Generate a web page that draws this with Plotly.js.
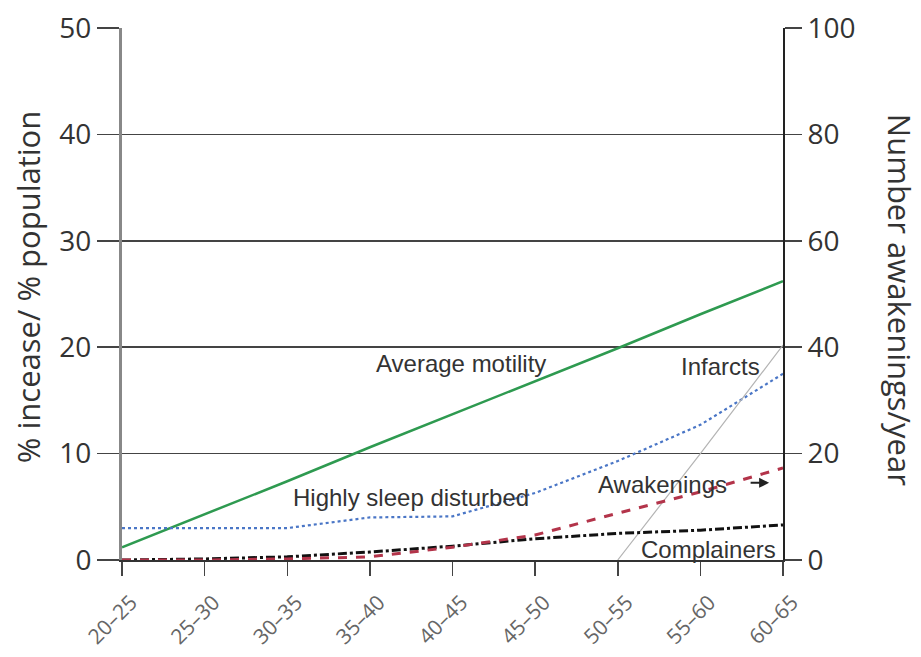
<!DOCTYPE html>
<html>
<head>
<meta charset="utf-8">
<script src="https://cdn.plot.ly/plotly-3.0.1.min.js"></script>
<style>html,body{margin:0;padding:0;background:#fff;}#chart{width:921px;height:657px;}</style>
</head>
<body>
<div id="chart"></div>
<script>
var ageGroups = ["20–25","25–30","30–35","35–40","40–45","45–50","50–55","55–60","60–65"];
var averageMotility = [1.2, 4.3, 7.4, 10.6, 13.7, 16.8, 19.9, 23.1, 26.2];
var highlySleepDisturbed = [3.0, 3.0, 3.0, 4.0, 4.1, 6.3, 9.3, 12.7, 17.5];
var complainers = [0, 0.1, 0.3, 0.75, 1.3, 2.0, 2.5, 2.8, 3.3];
var infarcts = [null, null, null, null, null, null, 0, 10.0, 20.2];
var awakenings = [0, 0, 0.2, 0.6, 2.4, 4.7, 8.8, 12.8, 17.3];
var leftTicks = [0, 10, 20, 30, 40, 50];
var rightTicks = [0, 20, 40, 60, 80, 100];

var traces = [
  {x: ageGroups, y: averageMotility, name: "Average motility", mode: "lines", line: {color: "#2e9a50", width: 2.5}},
  {x: ageGroups, y: highlySleepDisturbed, name: "Highly sleep disturbed", mode: "lines", line: {color: "#4a76c6", width: 2.2, dash: "dot"}},
  {x: ageGroups, y: infarcts, name: "Infarcts", mode: "lines", line: {color: "#b4b4b4", width: 1.2}},
  {x: ageGroups, y: complainers, name: "Complainers", mode: "lines", line: {color: "#111", width: 3, dash: "dashdot"}},
  {x: ageGroups, y: awakenings, name: "Awakenings", mode: "lines", yaxis: "y2", line: {color: "#b3344a", width: 3, dash: "dash"}}
];

var annFont = {family: "Liberation Sans, Arial, sans-serif", size: 24, color: "#333"};
var titleFont = {family: "Open Sans, Noto Sans, sans-serif", size: 31, color: "#333"};
function note(txt, x, y) {
  return {xref: "paper", yref: "paper", x: x, y: y, xanchor: "center", yanchor: "middle", text: txt, showarrow: false, font: annFont};
}
var layout = {
  width: 921, height: 657,
  margin: {l: 122, r: 138, t: 28, b: 97},
  paper_bgcolor: "#fff", plot_bgcolor: "#fff",
  showlegend: false,
  font: {family: "Open Sans, Noto Sans, sans-serif", color: "#333"},
  xaxis: {
    type: "category", range: [0, 8], showgrid: false, zeroline: false,
    showline: true, linecolor: "#333", linewidth: 2,
    ticks: "outside", ticklen: 14, tickwidth: 1.5, tickcolor: "#444",
    tickangle: -45, tickfont: {size: 21, color: "#666"},
    ticklabelstandoff: 6, ticklabelshift: 9
  },
  yaxis: {
    range: [0, 50], tickvals: leftTicks, ticktext: leftTicks.map(String),
    showgrid: true, gridcolor: "#444", gridwidth: 1.5, zeroline: false,
    showline: true, linecolor: "#888", linewidth: 3,
    ticks: "outside", ticklen: 22, tickwidth: 1.5, tickcolor: "#444",
    tickfont: {size: 28, color: "#333"}
  },
  yaxis2: {
    range: [0, 100], overlaying: "y", side: "right",
    tickvals: rightTicks, ticktext: rightTicks.map(String),
    showgrid: false, zeroline: false,
    showline: true, linecolor: "#222", linewidth: 2,
    ticks: "outside", ticklen: 17, tickwidth: 1.5, tickcolor: "#444",
    tickfont: {size: 28, color: "#333"}
  },
  annotations: [
    note("Average motility", 0.513, 0.370),
    note("Infarcts", 0.906, 0.363),
    note("Highly sleep disturbed", 0.437, 0.118),
    note("Awakenings", 0.818, 0.141),
    {xref: "paper", yref: "paper", x: 0.979, y: 0.145, text: "", showarrow: true, ax: -20, ay: 0, arrowhead: 2, arrowsize: 1, arrowwidth: 2, arrowcolor: "#222"},
    note("Complainers", 0.887, 0.019),
    {xref: "paper", yref: "paper", x: -0.142, y: 0.513, xanchor: "center", yanchor: "middle", text: "% incease/ % population", textangle: -90, showarrow: false, font: titleFont},
    {xref: "paper", yref: "paper", x: 1.177, y: 0.489, xanchor: "center", yanchor: "middle", text: "Number awakenings/year", textangle: 90, showarrow: false, font: titleFont}
  ]
};
Plotly.newPlot("chart", traces, layout, {displayModeBar: false, staticPlot: true});
</script>
</body>
</html>
